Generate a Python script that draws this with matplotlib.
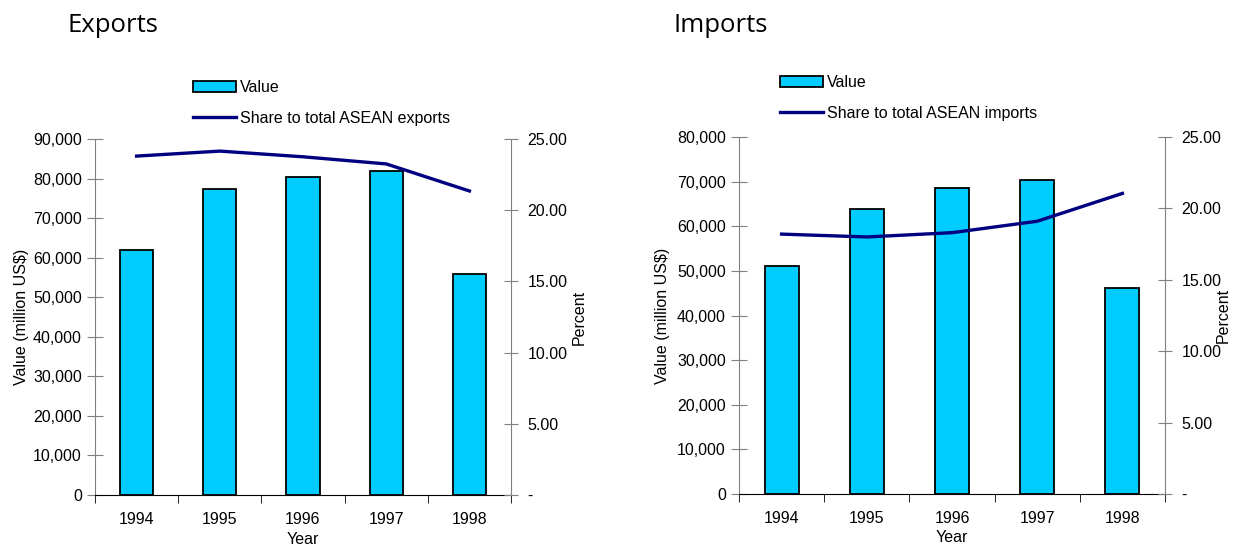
import numpy as np
import matplotlib.pyplot as plt
from matplotlib.ticker import FuncFormatter

years = ["1994", "1995", "1996", "1997", "1998"]

# Exports
exp_value = [62000, 77400, 80500, 81900, 55900]
exp_share = [23.8, 24.15, 23.75, 23.25, 21.35]

# Imports
imp_value = [51200, 63800, 68500, 70400, 46100]
imp_share = [18.2, 18.0, 18.3, 19.1, 21.05]

plt.rcParams['font.family'] = ['Liberation Sans', 'DejaVu Sans']
plt.rcParams['font.size'] = 11.5

W, H = 1235, 546
fig = plt.figure(figsize=(W / 100, H / 100), dpi=100)

bar_color = '#00CCFF'
line_color = '#000080'
spine_gray = '#808080'


def draw(box, values, share, ymax, title, title_x, leg_x, leg_y, share_label,
         ylab_off, pct_off):
    # box = (left, top, right, bottom) in pixels
    l, t, r, b = box
    ax = fig.add_axes([l / W, 1 - b / H, (r - l) / W, (b - t) / H])
    x = np.arange(len(years))
    bars = ax.bar(x, values, width=0.4, color=bar_color, edgecolor='black',
                  linewidth=1.3, label='Value', zorder=2)
    ax.set_xlim(-0.5, len(years) - 0.5)
    ax.set_ylim(0, ymax)
    ax.set_yticks(np.arange(0, ymax + 1, 10000))
    ax.yaxis.set_major_formatter(FuncFormatter(lambda v, p: f"{int(v):,}"))
    ax.set_xticks(x)
    ax.set_xticklabels(years)
    ax.set_xticks(np.arange(-0.5, len(years)), minor=True)
    ax.tick_params(axis='x', which='major', length=0, pad=12)
    ax.tick_params(axis='x', which='minor', length=6, direction='out', color='black')
    ax.tick_params(axis='y', length=11, direction='inout', color=spine_gray, pad=4)
    ax.spines['top'].set_visible(False)
    ax.spines['right'].set_visible(False)
    ax.spines['left'].set_color(spine_gray)
    ax.set_ylabel('Value (million US$)')
    ax.yaxis.set_label_coords(-ylab_off / (r - l), 0.5)
    ax.set_xlabel('Year')
    ax.xaxis.set_label_coords(0.5, -36.5 / (b - t))

    ax2 = ax.twinx()
    line, = ax2.plot(x, share, color=line_color, linewidth=2.4,
                     label=share_label, zorder=3)
    ax2.set_ylim(0, 25)
    ax2.set_yticks(np.arange(0, 26, 5))
    ax2.yaxis.set_major_formatter(
        FuncFormatter(lambda v, p: '-' if v == 0 else f"{v:.2f}"))
    ax2.tick_params(axis='y', length=10, direction='inout', color=spine_gray, pad=7)
    for s in ['top', 'left', 'bottom']:
        ax2.spines[s].set_visible(False)
    ax2.spines['right'].set_color(spine_gray)
    ax2.set_ylabel('Percent')
    ax2.yaxis.set_label_coords(1 + pct_off / (r - l), 0.5)

    fig.text(title_x / W, 1 - 26 / H, title, fontsize=18.5, family='Open Sans',
             va='center', ha='left')
    fig.legend([bars, line], ['Value', share_label], loc='upper left',
               bbox_to_anchor=(leg_x / W, 1 - leg_y / H), frameon=False,
               handlelength=2.7, handletextpad=0.25, labelspacing=1.0,
               borderpad=0, borderaxespad=0, fontsize=11.5)


draw((95, 139, 511, 495), exp_value, exp_share, 90000, 'Exports', 68, 193, 80,
     'Share to total ASEAN exports', 66, 60.5)
draw((739, 137, 1165, 494), imp_value, imp_share, 80000, 'Imports', 673, 780, 75,
     'Share to total ASEAN imports', 69, 50.5)

fig.savefig('out.png', dpi=100)
